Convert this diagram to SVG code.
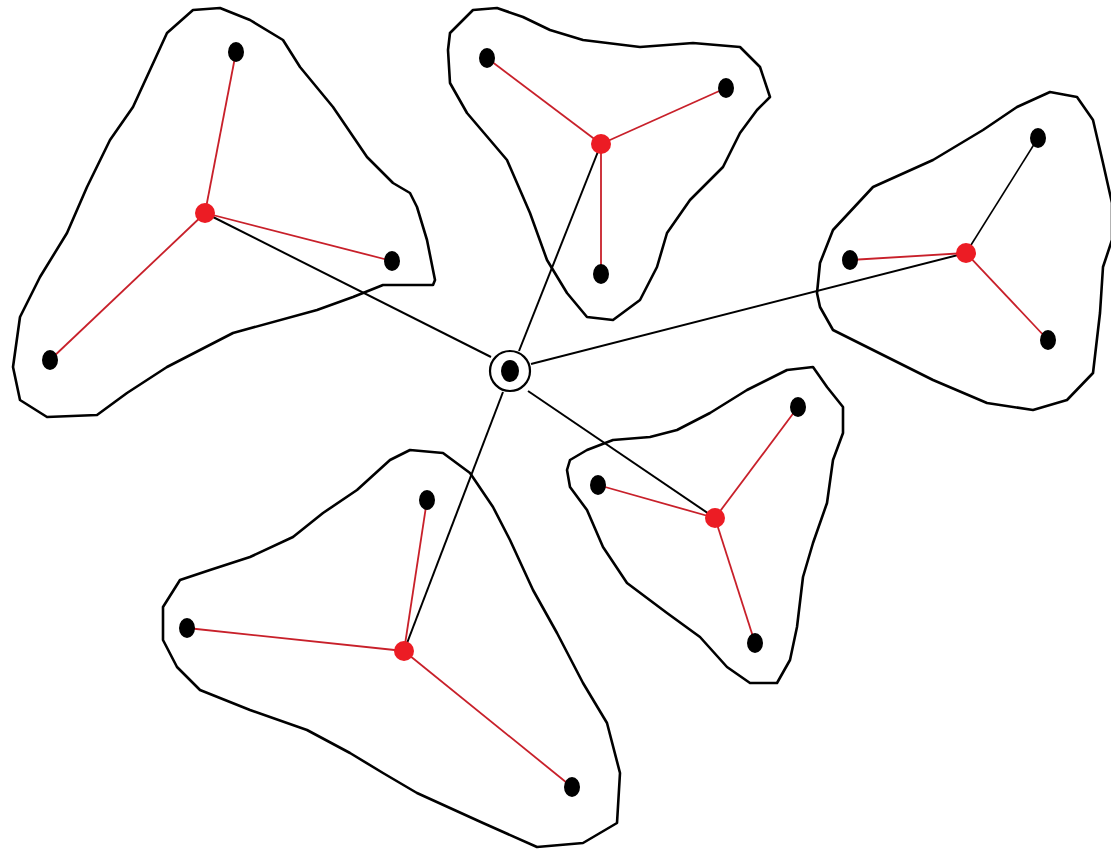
<svg xmlns="http://www.w3.org/2000/svg" width="1111" height="852" viewBox="0 0 1111 852">
<style>
.blob{fill:none;stroke:#000;stroke-width:2.6;stroke-linejoin:round}
.red{stroke:#c8202a;stroke-width:1.8;fill:none}
.blk{stroke:#000;stroke-width:2;fill:none}
.node{fill:#000}
.hub{fill:#ec1c24}
</style>
<rect width="1111" height="852" fill="#fff"/>
<g id="blobs">
<polygon class="blob" points="193,10 220,8 250,20 283,40 300,67 333,107 367,157 393,183 410,193 417,207 427,240 435,280 433,285 383,285 353,297 317,310 233,333 167,367 127,393 97,415 47,417 20,400 13,367 20,317 40,277 67,233 87,187 110,140 133,107 167,33"/>
<polygon class="blob" points="473,10 497,8 523,17 550,30 583,40 640,47 693,43 740,47 760,67 770,97 757,110 740,133 723,167 690,200 667,233 657,267 640,300 613,320 587,317 567,293 547,260 530,213 507,160 490,140 467,113 450,83 448,50 450,33"/>
<polygon class="blob" points="817,293 820,263 833,230 873,187 933,160 983,130 1017,107 1050,92 1077,97 1093,120 1103,163 1112,203 1112,240 1103,267 1100,313 1093,373 1067,400 1033,410 987,403 933,380 867,347 833,330 820,307"/>
<polygon class="blob" points="410,450 443,453 470,473 493,507 510,540 533,590 557,633 583,683 607,723 620,773 617,823 583,843 537,847 483,823 417,793 383,773 350,753 307,730 250,710 200,690 177,667 163,640 163,607 180,580 210,570 250,557 293,537 323,513 357,490 390,460"/>
<polygon class="blob" points="570,460 587,450 613,440 650,437 677,430 710,413 747,390 787,370 813,367 827,387 843,407 843,433 833,460 827,503 813,543 803,577 797,627 790,660 777,683 750,683 727,667 700,637 667,613 627,583 603,547 587,510 570,487 567,470"/>
</g>
<g id="connectors">
<line class="blk" x1="205" y1="213" x2="491" y2="357"/>
<line class="blk" x1="601" y1="144" x2="519" y2="351"/>
<line class="blk" x1="966" y1="253" x2="531" y2="364"/>
<line class="blk" x1="404" y1="651" x2="503" y2="392"/>
<line class="blk" x1="715" y1="518" x2="528" y2="391"/>
<line class="red" x1="205" y1="213" x2="236" y2="52"/>
<line class="red" x1="205" y1="213" x2="392" y2="261"/>
<line class="red" x1="205" y1="213" x2="50" y2="360"/>
<line class="red" x1="601" y1="144" x2="487" y2="58"/>
<line class="red" x1="601" y1="144" x2="726" y2="88"/>
<line class="red" x1="601" y1="144" x2="601" y2="274"/>
<line class="blk" x1="966" y1="253" x2="1038" y2="138" style="stroke-width:1.6"/>
<line class="red" x1="966" y1="253" x2="850" y2="260"/>
<line class="red" x1="966" y1="253" x2="1048" y2="340"/>
<line class="red" x1="404" y1="651" x2="427" y2="500"/>
<line class="red" x1="404" y1="651" x2="187" y2="628"/>
<line class="red" x1="404" y1="651" x2="572" y2="787"/>
<line class="red" x1="715" y1="518" x2="798" y2="407"/>
<line class="red" x1="715" y1="518" x2="598" y2="485"/>
<line class="red" x1="715" y1="518" x2="755" y2="643"/>
</g>
<g id="center">
<circle cx="510" cy="371" r="20" fill="#fff" stroke="#000" stroke-width="2.2"/>
<ellipse class="node" cx="510" cy="371" rx="9" ry="11"/>
</g>
<g id="cluster1">
<circle class="hub" cx="205" cy="213" r="10"/>
<ellipse class="node" cx="236" cy="52" rx="8" ry="10"/>
<ellipse class="node" cx="392" cy="261" rx="8" ry="10"/>
<ellipse class="node" cx="50" cy="360" rx="8" ry="10"/>
</g>
<g id="cluster2">
<circle class="hub" cx="601" cy="144" r="10"/>
<ellipse class="node" cx="487" cy="58" rx="8" ry="10"/>
<ellipse class="node" cx="726" cy="88" rx="8" ry="10"/>
<ellipse class="node" cx="601" cy="274" rx="8" ry="10"/>
</g>
<g id="cluster3">
<circle class="hub" cx="966" cy="253" r="10"/>
<ellipse class="node" cx="1038" cy="138" rx="8" ry="10"/>
<ellipse class="node" cx="850" cy="260" rx="8" ry="10"/>
<ellipse class="node" cx="1048" cy="340" rx="8" ry="10"/>
</g>
<g id="cluster4">
<circle class="hub" cx="404" cy="651" r="10"/>
<ellipse class="node" cx="427" cy="500" rx="8" ry="10"/>
<ellipse class="node" cx="187" cy="628" rx="8" ry="10"/>
<ellipse class="node" cx="572" cy="787" rx="8" ry="10"/>
</g>
<g id="cluster5">
<circle class="hub" cx="715" cy="518" r="10"/>
<ellipse class="node" cx="798" cy="407" rx="8" ry="10"/>
<ellipse class="node" cx="598" cy="485" rx="8" ry="10"/>
<ellipse class="node" cx="755" cy="643" rx="8" ry="10"/>
</g>
</svg>
